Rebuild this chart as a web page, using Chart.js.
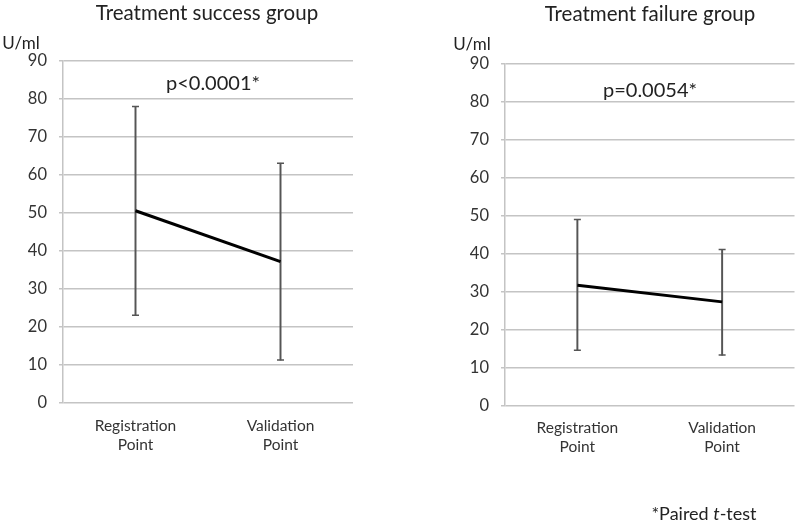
<!DOCTYPE html>
<html>
<head>
<meta charset="utf-8">
<script src="https://cdn.jsdelivr.net/npm/chart.js@4/dist/chart.umd.min.js"></script>
<style>
  html, body { margin: 0; padding: 0; background: #fff; }
  body { width: 800px; height: 524px; position: relative; overflow: hidden; font-family: Lato, "Open Sans", sans-serif; color: #222; }
  .wrap { position: absolute; top: 0; width: 400px; height: 524px; }
  .txt { position: absolute; white-space: nowrap; transform: translate(-50%, -50%); line-height: 1; }
  .title { font-size: 20.5px; }
  .unit { font-size: 17px; }
  .pval { font-size: 20px; }
  .note { font-size: 18px; }
</style>
</head>
<body>
<div class="wrap" style="left:0"><canvas id="c1" width="400" height="524"></canvas></div>
<div class="wrap" style="left:400px"><canvas id="c2" width="400" height="524"></canvas></div>

<div class="txt title" style="left:207px; top:12px">Treatment success group</div>
<div class="txt title" style="left:650px; top:13px">Treatment failure group</div>
<div class="txt unit" style="left:21px; top:42px">U/ml</div>
<div class="txt unit" style="left:472px; top:43px">U/ml</div>
<div class="txt pval" style="left:213px; top:82px">p&lt;0.0001*</div>
<div class="txt pval" style="left:650px; top:89px">p=0.0054*</div>
<div class="txt note" style="left:704px; top:513px">*Paired <i>t</i>-test</div>

<script>
const categories = [["Registration", "Point"], ["Validation", "Point"]];

const successMean  = [50.6, 37.2];
const successUpper = [78.0, 63.1];
const successLower = [23.1, 11.3];

const failureMean  = [31.8, 27.4];
const failureUpper = [49.1, 41.2];
const failureLower = [14.7, 13.4];

const yMin = 0, yMax = 90, yStep = 10;

Chart.defaults.font.family = 'Lato, "Open Sans", sans-serif';
Chart.defaults.color = '#333';

function makeChart(id, mean, upper, lower, yAxisWidth, padTop, padRight, xAxisHeight, xLabelPad) {
  const ranges = lower.map((lo, i) => [lo, upper[i]]);
  const errColor = '#555';
  return new Chart(document.getElementById(id), {
    type: 'bar',
    data: {
      labels: categories,
      datasets: [
        { type: 'line', data: mean, borderColor: '#000', borderWidth: 3, pointRadius: 0, fill: false, order: 0 },
        { type: 'line', data: upper, showLine: false, pointStyle: 'line', pointRadius: 3.5, borderColor: errColor, pointBorderWidth: 1.5, order: 1 },
        { type: 'line', data: lower, showLine: false, pointStyle: 'line', pointRadius: 3.5, borderColor: errColor, pointBorderWidth: 1.5, order: 1 },
        { type: 'bar', data: ranges, backgroundColor: errColor, borderWidth: 0, barThickness: 1.3, order: 2 }
      ]
    },
    options: {
      responsive: false,
      animation: false,
      events: [],
      layout: { padding: { top: padTop, right: padRight, left: 0, bottom: 0 } },
      plugins: { legend: { display: false }, tooltip: { enabled: false }, title: { display: false } },
      scales: {
        x: {
          grid: { display: false, drawTicks: false },
          border: { display: false },
          ticks: { padding: xLabelPad, font: { size: 15.5, lineHeight: 1.25 }, color: '#333', maxRotation: 0 },
          afterFit: s => { s.height = xAxisHeight; }
        },
        y: {
          min: yMin, max: yMax,
          grid: { color: '#c4c4c4', lineWidth: 1.5, drawTicks: true, tickLength: 4, tickColor: '#c4c4c4' },
          border: { display: true, color: '#c4c4c4', width: 1.5 },
          ticks: { stepSize: yStep, padding: 12, font: { size: 16.5 }, color: '#333' },
          afterFit: s => { s.width = yAxisWidth; }
        }
      }
    }
  });
}

makeChart('c1', successMean, successUpper, successLower, 63, 61, 47, 121, 13);
makeChart('c2', failureMean, failureUpper, failureLower, 105, 64, 4, 118, 12);
</script>
</body>
</html>
